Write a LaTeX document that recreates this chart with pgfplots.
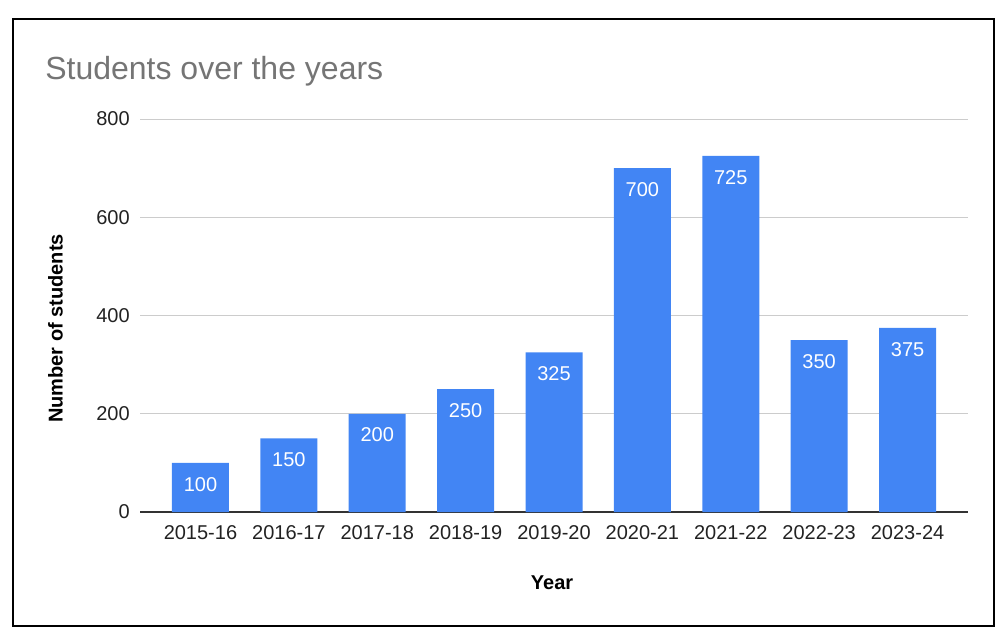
\documentclass[border=0pt]{standalone}
\usepackage{pgfplots}
\pgfplotsset{compat=1.18}
\usepackage{fontspec}
\setmainfont{Liberation Sans}
\definecolor{barblue}{HTML}{4285F4}
\definecolor{titlegray}{HTML}{757575}
\definecolor{gridgray}{HTML}{CCCCCC}
\definecolor{axisdark}{HTML}{333333}
\definecolor{ticktext}{HTML}{222222}
\begin{document}
\begin{tikzpicture}
\path[use as bounding box] (0pt,0pt) rectangle (754.5pt,474pt);
\draw[black, line width=1.1pt] (9.75pt,4.5pt) rectangle (745.5pt,459.75pt);
\begin{axis}[
  at={(105pt,90pt)}, anchor=south west,
  scale only axis,
  width=621pt, height=294.75pt,
  xmin=-0.684, xmax=8.684,
  ymin=0, ymax=800,
  ytick={0,200,400,600,800},
  xtick={0,1,2,3,4,5,6,7,8},
  xticklabels={2015-16,2016-17,2017-18,2018-19,2019-20,2020-21,2021-22,2022-23,2023-24},
  major tick length=0pt,
  axis x line*=bottom, axis y line*=left,
  x axis line style={draw=axisdark, line width=1.1pt},
  y axis line style={draw=none},
  ymajorgrids,
  major grid style={draw=gridgray, line width=0.75pt},
  /pgf/number format/assume math mode=true,
  ticklabel style={font=\fontsize{15}{18}\selectfont, text=ticktext, inner sep=0pt},
  xticklabel style={yshift=-9.75pt},
  yticklabel style={xshift=-7.5pt},
  title={Students over the years},
  title style={at={(axis description cs:-0.1147,1.0814)}, anchor=base west, font=\fontsize{24}{28}\selectfont, text=titlegray, inner sep=0pt},
  xlabel={Year},
  xlabel style={at={(axis description cs:0.4976,-0.1807)}, anchor=center, font=\bfseries\fontsize{15}{18}\selectfont, text=black, inner sep=0pt},
  ylabel={Number of students},
  ylabel style={at={(axis description cs:-0.102,0.467)}, anchor=center, font=\bfseries\fontsize{15}{18}\selectfont, text=black, inner sep=0pt},
  ybar, bar width=42.75pt, bar shift=0pt,
  nodes near coords,
  nodes near coords style={anchor=north, yshift=-10.5pt, inner sep=0pt, text=white, font=\fontsize{15}{18}\selectfont},
  point meta=explicit symbolic,
]
\addplot[fill=barblue, draw=none] coordinates {
  (0,100) [100]
  (1,150) [150]
  (2,200) [200]
  (3,250) [250]
  (4,325) [325]
  (5,700) [700]
  (6,725) [725]
  (7,350) [350]
  (8,375) [375]
};
\end{axis}
\end{tikzpicture}
\end{document}
